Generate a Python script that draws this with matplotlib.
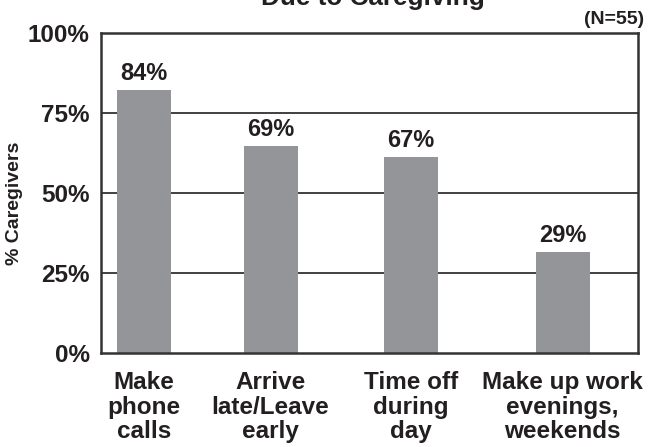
import matplotlib
matplotlib.use("Agg")
import matplotlib.pyplot as plt

categories = ["Make\nphone\ncalls", "Arrive\nlate/Leave\nearly", "Time off\nduring\nday", "Make up work\nevenings,\nweekends"]
bar_values = [82.3, 64.8, 61.3, 31.6]
value_labels = ["84%", "69%", "67%", "29%"]
yticks = [0, 25, 50, 75, 100]
ytick_labels = ["0%", "25%", "50%", "75%", "100%"]
title = "Due to Caregiving"
n_note = "(N=55)"
ylabel = "% Caregivers"

# layout (pixel-like units within the axes)
positions = [43.0, 169.8, 310.3, 462.0]
bar_width = 54
text_color = "#231f20"
bar_color = "#939598"

plt.rcParams['font.family'] = ['Liberation Sans', 'DejaVu Sans']

fig = plt.figure(figsize=(6.51, 4.47), dpi=100)
ax = fig.add_axes([100.7/651, 1 - 353.3/447, 537/651, 320/447])

for y in yticks[1:-1]:
    ax.axhline(y, color="#231f20", lw=1.2, zorder=1)

ax.bar(positions, bar_values, width=bar_width, color=bar_color, zorder=2)
for x, v, lab in zip(positions, bar_values, value_labels):
    ax.text(x, v + 1.6, lab, ha="center", va="bottom", fontsize=17,
            fontweight="bold", color=text_color)

ax.set_xlim(0, 537)
ax.set_ylim(0, 100)
ax.set_yticks(yticks)
ax.set_yticklabels(ytick_labels, fontsize=17.5, fontweight="bold", color=text_color)
ax.tick_params(axis="y", length=0, pad=8)
ax.set_xticks(positions)
ax.set_xticklabels(categories, fontsize=17.5, fontweight="bold", color=text_color,
                   linespacing=1.08, va="top")
ax.tick_params(axis="x", length=0, pad=13)
for s in ax.spines.values():
    s.set_linewidth(1.8)
    s.set_color("#333333")

fig.text(15/651, 1 - 203/447, ylabel, rotation=90, ha="center", va="center",
         fontsize=14, fontweight="bold", color=text_color)
fig.text(644/651, 1 - 20/447, n_note, ha="right", va="center",
         fontsize=14, fontweight="bold", color=text_color)
fig.text(373/651, 1 - 5/447, title, ha="center", va="baseline",
         fontsize=18.8, fontweight="bold", color=text_color)

fig.savefig("out.png", dpi=100)
